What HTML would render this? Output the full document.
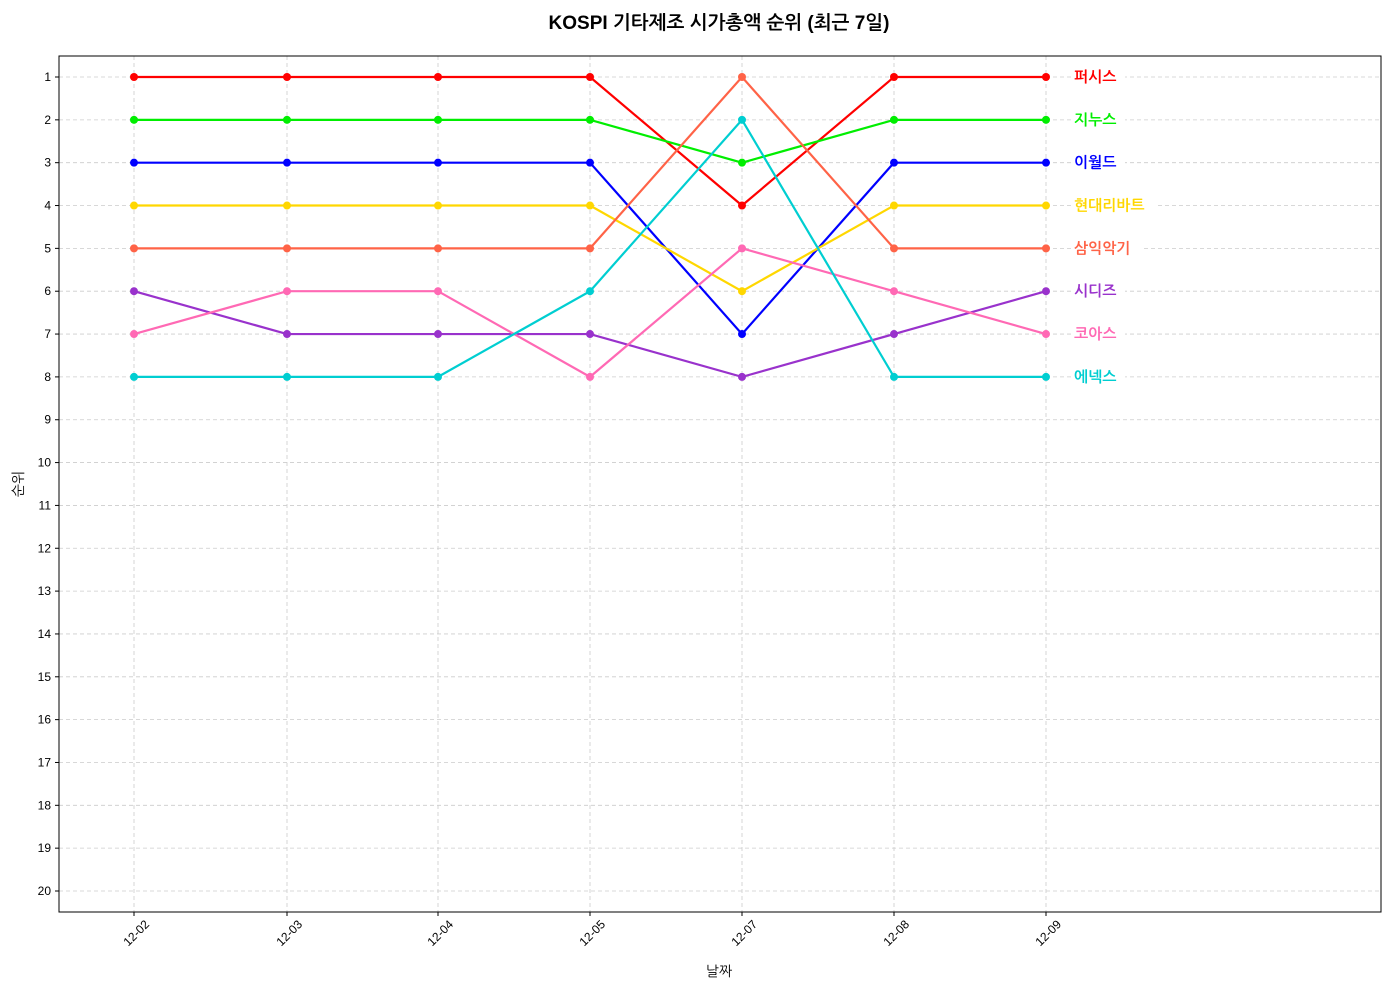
<!DOCTYPE html>
<html><head><meta charset="utf-8">
<style>
body{margin:0;background:#fff;}
svg text{font-family:"Liberation Sans","NanumGothic","Noto Sans CJK KR",sans-serif;}
</style></head>
<body>
<svg id="s" width="1389" height="990" xmlns="http://www.w3.org/2000/svg">
<rect width="1389" height="990" fill="#fff"/>
<text x="719" y="29" text-anchor="middle" font-size="19" font-weight="bold" fill="#000">KOSPI 기타제조 시가총액 순위 (최근 7일)</text>
<g id="grid"></g>
<g id="series"></g>
<rect x="59" y="56" width="1322" height="856" fill="none" stroke="#000" stroke-width="1"/>
<text x="719" y="976" text-anchor="middle" font-size="14" fill="#000">날짜</text>
<text transform="translate(23,484) rotate(-90)" text-anchor="middle" font-size="14" fill="#000">순위</text>
</svg>
<script>
const NS="http://www.w3.org/2000/svg";
const xs=[134,287,438,590,742,894,1046];
const dates=["12-02","12-03","12-04","12-05","12-07","12-08","12-09"];
const Y=r=>77+(r-1)*(891-77)/19;
const g=document.getElementById("grid"),s=document.getElementById("series");
function el(t,a,p,txt){const e=document.createElementNS(NS,t);for(const k in a)e.setAttribute(k,a[k]);if(txt!==undefined)e.textContent=txt;p.appendChild(e);return e;}
for(let r=1;r<=20;r++){const y=Y(r);
el("line",{x1:59,x2:1381,y1:y,y2:y,stroke:"#ccc","stroke-dasharray":"4,3","stroke-width":0.8},g);
el("line",{x1:55,x2:59,y1:y,y2:y,stroke:"#000"},g);
el("text",{x:51,y:y+4,"text-anchor":"end","font-size":12},g,r);}
xs.forEach((x,i)=>{
el("line",{x1:x,x2:x,y1:56,y2:912,stroke:"#ccc","stroke-dasharray":"4,3","stroke-width":0.8},g);
el("line",{x1:x,x2:x,y1:912,y2:916,stroke:"#000"},g);
el("text",{transform:`translate(${x+16},${925}) rotate(-45)`,"text-anchor":"end","font-size":12},g,dates[i]);});
const data=[
["퍼시스","#ff0000",[1,1,1,1,4,1,1]],
["지누스","#00ee00",[2,2,2,2,3,2,2]],
["이월드","#0000ff",[3,3,3,3,7,3,3]],
["현대리바트","#ffd700",[4,4,4,4,6,4,4]],
["삼익악기","#ff6347",[5,5,5,5,1,5,5]],
["시디즈","#9932cc",[6,7,7,7,8,7,6]],
["코아스","#ff69b4",[7,6,6,8,5,6,7]],
["에넥스","#00ced1",[8,8,8,6,2,8,8]]];
data.forEach(([n,c,v])=>{
el("polyline",{points:v.map((r,i)=>xs[i]+","+Y(r)).join(" "),fill:"none",stroke:c,"stroke-width":2.2},s);
v.forEach((r,i)=>el("circle",{cx:xs[i],cy:Y(r),r:4,fill:c},s));
const ly=Y(v[6]);
el("rect",{x:1071,y:ly-9,width:n.length*16+6,height:18,fill:"#fff"},s);
el("text",{x:1074,y:ly+5,"font-size":15,"font-weight":"bold",fill:c},s,n);});
</script>
</body></html>
